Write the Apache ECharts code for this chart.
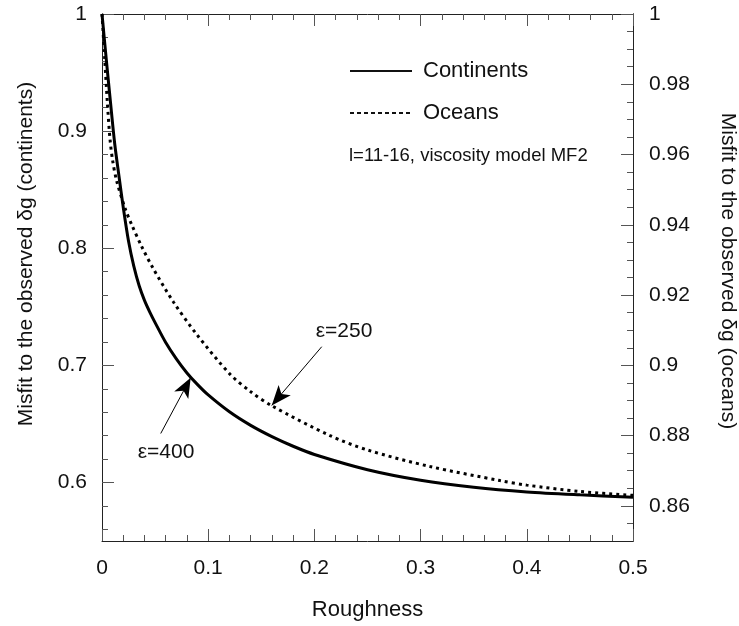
<!DOCTYPE html>
<html>
<head>
<meta charset="utf-8">
<script src="https://cdn.jsdelivr.net/npm/echarts@6/dist/echarts.min.js"></script>
<style>html,body{margin:0;padding:0;background:#fff}#c{width:739px;height:626px}</style>
</head>
<body>
<div id="c"></div>
<script>
// Continents (left axis) : [roughness, misfit]
const continentsX = [0, 0.004, 0.008, 0.012, 0.016, 0.02, 0.025, 0.03, 0.035, 0.04, 0.045, 0.05, 0.06, 0.07, 0.08, 0.09, 0.1, 0.12, 0.14, 0.16, 0.18, 0.2, 0.25, 0.3, 0.35, 0.4, 0.45, 0.5];
const continentsY = [1, 0.9615, 0.9245, 0.889, 0.8615, 0.835, 0.806, 0.7845, 0.768, 0.7555, 0.7455, 0.7365, 0.7195, 0.7055, 0.6935, 0.6835, 0.6747, 0.6603, 0.6487, 0.6391, 0.6309, 0.6239, 0.6109, 0.6019, 0.5959, 0.5919, 0.5894, 0.5874];
// Oceans (right axis)
const oceansX = [0, 0.0025, 0.005, 0.0075, 0.01, 0.0138, 0.0217, 0.028, 0.0374, 0.0483, 0.0671, 0.0892, 0.1205, 0.14, 0.1598, 0.2147, 0.25, 0.3088, 0.3748, 0.4, 0.45, 0.5];
const oceansY = [1, 0.9875, 0.975, 0.9645, 0.9583, 0.9525, 0.9447, 0.94, 0.9338, 0.9275, 0.9181, 0.9088, 0.8975, 0.8925, 0.8885, 0.88, 0.8759, 0.8712, 0.8672, 0.8659, 0.8641, 0.863];

const leftLabels = [0.6, 0.7, 0.8, 0.9, 1];
const rightLabels = [0.86, 0.88, 0.9, 0.92, 0.94, 0.96, 0.98, 1];
const xLabels = [0, 0.1, 0.2, 0.3, 0.4, 0.5];

// annotations
const eps400 = { text: 'ε=400', from: [0.0553, 0.6418], to: [0.0835, 0.6895], label: [0.0603, 0.6254] };
const eps250 = { text: 'ε=250', from: [0.2069, 0.9053], to: [0.1598, 0.8886], label: [0.2279, 0.9096] };

const leftMinor = [];
for (let i = 56; i <= 100; i += 2) leftMinor.push(i / 100);
const rightMinor = [];
for (let i = 855; i <= 1000; i += 5) rightMinor.push(i / 1000);

const FONT = "'Liberation Sans', Arial, sans-serif";
const fmt = v => String(+(+v).toFixed(3));
const lineCol = '#222';
const tickCol = '#555';

const chart = echarts.init(document.getElementById('c'));
const baseY = (min, max, pos) => ({
  type: 'value', min: min, max: max, position: pos,
  splitLine: { show: false },
  axisLine: { show: true, onZero: false, lineStyle: { color: lineCol, width: 1 } }
});

chart.setOption({
  animation: false,
  backgroundColor: '#fff',
  textStyle: { fontFamily: FONT },
  grid: { left: 102, right: 106, top: 14, bottom: 81, containLabel: false },
  title: {
    text: 'l=11-16, viscosity model MF2', left: 344, top: 141,
    textStyle: { fontFamily: FONT, fontSize: 18.5, fontWeight: 'normal', color: '#111' }
  },
  legend: {
    orient: 'vertical', left: 344, top: 55, itemWidth: 62, itemHeight: 22, itemGap: 20,
    textStyle: { fontFamily: FONT, fontSize: 22, color: '#111', padding: [0, 0, 0, 6] },
    data: [
      { name: 'Continents', itemStyle: { opacity: 0 }, lineStyle: { width: 2, color: '#111' } },
      { name: 'Oceans', itemStyle: { opacity: 0 }, lineStyle: { width: 2, color: '#111', type: [4, 3] } }
    ]
  },
  xAxis: [
    {
      type: 'value', min: 0, max: 0.5, interval: 0.1, position: 'bottom',
      name: 'Roughness', nameLocation: 'middle', nameGap: 58,
      nameTextStyle: { fontFamily: FONT, fontSize: 22, color: '#111' },
      splitLine: { show: false },
      axisLine: { show: true, onZero: false, lineStyle: { color: lineCol, width: 1 } },
      axisTick: { inside: true, length: 12, lineStyle: { color: tickCol } },
      minorTick: { show: true, splitNumber: 5, length: 6, lineStyle: { color: tickCol } },
      axisLabel: { fontFamily: FONT, fontSize: 21, color: '#111', margin: 17, formatter: fmt,
        customValues: xLabels }
    },
    {
      type: 'value', min: 0, max: 0.5, interval: 0.1, position: 'top',
      splitLine: { show: false },
      axisLine: { show: true, onZero: false, lineStyle: { color: lineCol, width: 1 } },
      axisTick: { inside: true, length: 12, lineStyle: { color: tickCol } },
      minorTick: { show: true, splitNumber: 5, length: 6, lineStyle: { color: tickCol } },
      axisLabel: { show: false }
    }
  ],
  yAxis: [
    Object.assign(baseY(0.55, 1, 'left'), {
      axisTick: { inside: true, length: 12, customValues: leftLabels, lineStyle: { color: tickCol } },
      axisLabel: { fontFamily: FONT, fontSize: 21, color: '#111', margin: 15, formatter: fmt, customValues: leftLabels }
    }),
    Object.assign(baseY(0.85, 1, 'right'), {
      axisTick: { inside: true, length: 12, customValues: rightLabels, lineStyle: { color: tickCol } },
      axisLabel: { fontFamily: FONT, fontSize: 21, color: '#111', margin: 16, formatter: fmt, customValues: rightLabels }
    }),
    Object.assign(baseY(0.55, 1, 'left'), {
      axisTick: { inside: true, length: 6, customValues: leftMinor, lineStyle: { color: tickCol } },
      axisLabel: { show: false }
    }),
    Object.assign(baseY(0.85, 1, 'right'), {
      axisTick: { inside: true, length: 6, customValues: rightMinor, lineStyle: { color: tickCol } },
      axisLabel: { show: false }
    })
  ],
  graphic: [
    { type: 'text', x: 26, y: 254, rotation: Math.PI / 2,
      style: { text: 'Misfit to the observed δg (continents)', font: '21px ' + FONT, fill: '#111', textAlign: 'center', textVerticalAlign: 'middle' } },
    { type: 'text', x: 728, y: 271, rotation: -Math.PI / 2,
      style: { text: 'Misfit to the observed δg (oceans)', font: '21px ' + FONT, fill: '#111', textAlign: 'center', textVerticalAlign: 'middle' } }
  ],
  series: [
    {
      name: 'Continents', type: 'line', xAxisIndex: 0, yAxisIndex: 0, showSymbol: false, symbol: 'none', smooth: 0.3,
      itemStyle: { color: '#000' },
      lineStyle: { color: '#000', width: 3 }, z: 3,
      data: continentsX.map((x, i) => [x, continentsY[i]]),
      markLine: {
        silent: true, symbol: ['none', 'arrow'], symbolSize: [12, 20], animation: false,
        label: { show: false }, lineStyle: { color: '#000', width: 1, type: 'solid' },
        data: [[{ coord: eps400.from }, { coord: eps400.to }]]
      },
      markPoint: {
        silent: true, symbol: 'circle', symbolSize: 1, itemStyle: { color: 'rgba(0,0,0,0)' },
        label: { show: true, position: 'inside', fontFamily: FONT, fontSize: 21, color: '#111', formatter: eps400.text },
        data: [{ coord: eps400.label }]
      }
    },
    {
      name: 'Oceans', type: 'line', xAxisIndex: 0, yAxisIndex: 1, showSymbol: false, symbol: 'none', smooth: 0.3,
      itemStyle: { color: '#000' },
      lineStyle: { color: '#000', width: 3, type: [3, 4] }, z: 3,
      data: oceansX.map((x, i) => [x, oceansY[i]]),
      markLine: {
        silent: true, symbol: ['none', 'arrow'], symbolSize: [12, 20], animation: false,
        label: { show: false }, lineStyle: { color: '#000', width: 1, type: 'solid' },
        data: [[{ coord: eps250.from }, { coord: eps250.to }]]
      },
      markPoint: {
        silent: true, symbol: 'circle', symbolSize: 1, itemStyle: { color: 'rgba(0,0,0,0)' },
        label: { show: true, position: 'inside', fontFamily: FONT, fontSize: 21, color: '#111', formatter: eps250.text },
        data: [{ coord: eps250.label }]
      }
    }
  ]
});
</script>
</body>
</html>
